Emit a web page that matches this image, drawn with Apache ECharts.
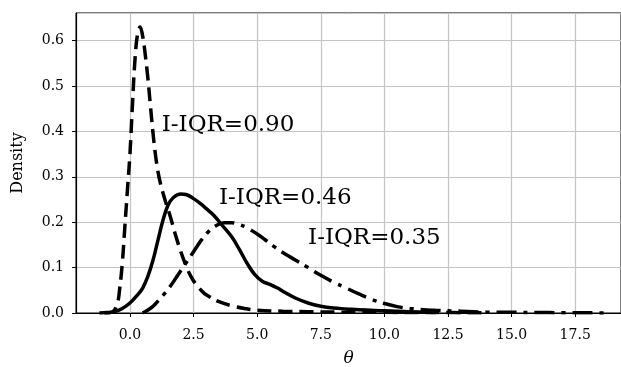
<!DOCTYPE html>
<html>
<head>
<meta charset="utf-8">
<script src="https://cdn.jsdelivr.net/npm/echarts@6/dist/echarts.min.js"></script>
<style>
  html, body { margin: 0; padding: 0; background: #fff; }
  #chart { width: 621px; height: 367px; }
</style>
</head>
<body>
<div id="chart"></div>
<script>
// density curves (theta, density)
const thetaA = [-1.0, -0.7, -0.5, -0.4, -0.3, -0.2, -0.1, 0.0, 0.1, 0.2, 0.3, 0.4, 0.5, 0.6, 0.7, 0.8, 0.9, 1.0, 1.1, 1.2, 1.4, 1.6, 1.8, 2.0, 2.2, 2.4, 2.6, 2.8, 3.0, 3.5, 4.0, 4.5, 5.0, 6.0, 7.0, 8.0, 10.0, 12.0, 14.0];
const densA = [0, 0.002, 0.02, 0.055, 0.11, 0.19, 0.27, 0.35, 0.46, 0.56, 0.615, 0.63, 0.61, 0.57, 0.52, 0.46, 0.40, 0.35, 0.312, 0.285, 0.245, 0.21, 0.17, 0.135, 0.105, 0.08, 0.063, 0.05, 0.04, 0.025, 0.016, 0.01, 0.006, 0.004, 0.003, 0.002, 0.0015, 0.001, 0.0005];

const thetaB = [-1.2, -0.9, -0.6, -0.3, 0.0, 0.3, 0.5, 0.7, 0.9, 1.1, 1.3, 1.5, 1.7, 2.0, 2.2, 2.5, 2.8, 3.0, 3.3, 3.6, 4.0, 4.3, 4.6, 4.9, 5.2, 5.5, 5.8, 6.1, 6.5, 7.0, 7.5, 8.0, 8.5, 9.0, 10.0, 11.0, 12.0];
const densB = [0, 0.001, 0.003, 0.01, 0.022, 0.04, 0.055, 0.08, 0.115, 0.16, 0.205, 0.238, 0.254, 0.262, 0.261, 0.252, 0.24, 0.23, 0.215, 0.195, 0.168, 0.14, 0.11, 0.085, 0.07, 0.063, 0.055, 0.045, 0.033, 0.022, 0.015, 0.011, 0.009, 0.007, 0.005, 0.003, 0.001];

const thetaC = [0.5, 0.8, 1.0, 1.3, 1.6, 1.9, 2.2, 2.5, 2.8, 3.1, 3.4, 3.7, 4.0, 4.3, 4.6, 5.0, 5.3, 5.7, 6.1, 6.5, 7.0, 7.5, 8.0, 8.5, 9.0, 9.5, 10.0, 10.5, 11.0, 12.0, 13.0, 14.0, 15.0, 16.0, 17.0, 18.0, 18.7];
const densC = [0, 0.01, 0.02, 0.039, 0.06, 0.085, 0.11, 0.135, 0.16, 0.18, 0.193, 0.199, 0.199, 0.195, 0.188, 0.174, 0.162, 0.145, 0.13, 0.117, 0.1, 0.083, 0.068, 0.055, 0.042, 0.03, 0.021, 0.014, 0.01, 0.006, 0.004, 0.002, 0.0015, 0.001, 0.0007, 0.0004, 0.0002];

const xTicks = [0, 2.5, 5, 7.5, 10, 12.5, 15, 17.5];
const labelText = ["I-IQR=0.90", "I-IQR=0.46", "I-IQR=0.35"];
const labelTheta = [1.25, 3.5, 7.0];
const labelDens = [0.40, 0.24, 0.15];

const SERIF = "'DejaVu Serif', serif";
const zip = (xs, ys) => xs.map((x, i) => [x, ys[i]]);

const chart = echarts.init(document.getElementById("chart"));

const curve = (data, dash) => ({
  type: "line",
  data,
  smooth: 0.4,
  showSymbol: false,
  symbol: "none",
  lineStyle: { color: "#000", width: 3.5, type: dash },
  silent: true,
  animation: false,
  clip: true,
});

chart.setOption({
  animation: false,
  grid: {
    left: 76, top: 13, right: 0, bottom: 54,
    outerBoundsMode: "none",
    containLabel: false,
    show: true, borderColor: "#000", borderWidth: 1, backgroundColor: "transparent",
  },
  xAxis: {
    type: "value",
    min: -2.12,
    max: 19.3,
    name: "θ",
    nameLocation: "middle",
    nameGap: 37,
    nameTextStyle: { fontFamily: SERIF, fontStyle: "italic", fontSize: 17, color: "#000" },
    axisLine: { onZero: false, lineStyle: { color: "#000", width: 1.2 } },
    axisTick: { show: true, length: 4, inside: false, customValues: xTicks, lineStyle: { color: "#000" } },
    axisLabel: {
      customValues: xTicks,
      margin: 15,
      fontFamily: SERIF, fontSize: 14, color: "#000",
      formatter: (v) => v.toFixed(1),
    },
    splitLine: { show: true, lineStyle: { color: "#c4c4c4", width: 1.2 } },
  },
  yAxis: {
    type: "value",
    min: 0,
    max: 0.661,
    interval: 0.1,
    name: "Density",
    nameLocation: "middle",
    nameGap: 50,
    nameTextStyle: { fontFamily: SERIF, fontSize: 16, color: "#000" },
    axisLine: { show: true, onZero: false, lineStyle: { color: "#000", width: 1.2 } },
    axisTick: { show: true, length: 4, lineStyle: { color: "#000" } },
    axisLabel: {
      margin: 12,
      fontFamily: SERIF, fontSize: 14, color: "#000",
      formatter: (v) => v.toFixed(1),
      showMaxLabel: false,
    },
    splitLine: { show: true, lineStyle: { color: "#c4c4c4", width: 1.2 } },
  },
  series: [
    curve(zip(thetaB, densB), "solid"),
    curve(zip(thetaC, densC), [20, 7, 4, 7]),
    curve(zip(thetaA, densA), [14, 7]),
    {
      type: "scatter",
      symbolSize: 0,
      silent: true,
      data: labelText.map((t, i) => ({ value: [labelTheta[i], labelDens[i]], name: t })),
      label: {
        show: true,
        position: [0, 0],
        align: "left",
        verticalAlign: "bottom",
        offset: [0, 5],
        formatter: (p) => p.name,
        fontFamily: SERIF,
        fontSize: 23,
        color: "#000",
        opacity: 1,
        textBorderWidth: 0,
      },
      z: 5,
    },
  ],
});
</script>
</body>
</html>
